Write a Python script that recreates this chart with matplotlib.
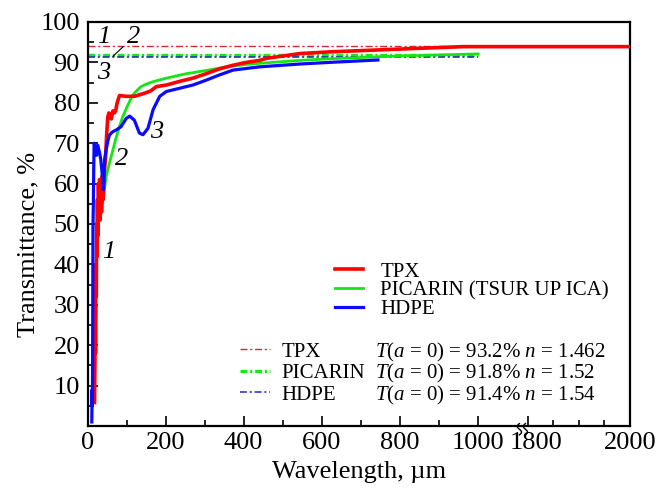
import numpy as np
import matplotlib
matplotlib.use('Agg')
import matplotlib.pyplot as plt
import matplotlib.transforms as mtransforms
from matplotlib.ticker import FixedLocator, FixedFormatter, NullFormatter

plt.rcParams['font.family'] = ['Liberation Serif', 'DejaVu Serif']
plt.rcParams['mathtext.fontset'] = 'custom'
plt.rcParams['mathtext.rm'] = 'Liberation Serif'
plt.rcParams['mathtext.it'] = 'Liberation Serif:italic'
plt.rcParams['lines.scale_dashes'] = False

# ---------------- data ----------------
tpx_wl = [18, 19, 20, 20.5, 21.5, 22.5, 23.5, 24.5, 25.5, 26.5, 28, 29.5, 31, 32.5, 34, 36, 38, 40,
          43, 46, 49, 52, 55, 58, 61, 65, 69, 72, 76, 82, 100, 120.5, 150, 163, 176, 202, 236,
          270, 304, 338, 373, 407, 441, 458, 545, 620, 800, 962, 1200, 1800, 2000]
tpx_T = [5.8, 15, 30, 18, 40, 32, 50, 42, 56, 47, 60, 52, 61, 51, 60, 53, 62, 56,
         63, 66, 72, 76.5, 77.5, 76.5, 76, 78, 77.5, 78, 80, 81.8, 81.6, 81.6, 82.5, 83, 84, 84.4, 85.3,
         86.1, 87.2, 88.4, 89.3, 90.0, 90.5, 91.0, 92.2, 92.6, 93.3, 93.9, 93.9, 93.9, 93.9]

pic_wl = [38, 44, 48, 56, 65, 73, 82, 90, 99, 108, 116, 126, 137, 150, 167, 202, 253,
          304, 356, 407, 458, 544, 620, 800, 1005]
pic_T = [55, 59, 61.8, 65, 68.3, 71.3, 74.1, 76.5, 78.5, 80.4, 81.9, 83, 84, 84.6, 85.2, 86.1, 87.2,
         88.0, 88.9, 89.5, 89.9, 90.5, 90.9, 91.6, 92.1]

hdpe_wl = [11, 12, 12.5, 13, 13.5, 14, 15, 16, 17, 20, 23, 26, 30, 34, 38, 41, 44, 48, 52, 56, 64,
           74, 86, 99, 108, 120, 133, 142, 155, 168, 185, 202, 236, 270, 304, 338, 373, 441, 544, 620, 744]
hdpe_T = [1, 9, 5, 14, 30, 49, 55, 64, 70, 69, 67, 69.5, 68, 66, 62, 58.5, 66, 68.5, 70.5, 72, 72.8,
          73.3, 74.1, 76.1, 76.7, 75.7, 72.5, 72.1, 73.7, 78.3, 81.6, 82.8, 83.6, 84.4, 85.6, 86.9, 88.1, 88.9,
          89.6, 90.0, 90.6]

names = ['TPX', 'PICARIN (TSUR UP ICA)', 'HDPE']
short_names = ['TPX', 'PICARIN', 'HDPE']
T0_values = [93.2, 91.8, 91.4]
n_values = ['1.462', '1.52', '1.54']
level_y = [94.1, 91.8, 91.35]      # drawn levels of dash-dot lines
level_xmax = [1000, 1005, 1000]

xticks_major = [0, 200, 400, 600, 800, 1000, 1800, 2000]
xticks_minor = [100, 300, 500, 700, 900, 1850, 1900, 1950]
yticks_major = [10, 20, 30, 40, 50, 60, 70, 80, 90, 100]
yticks_minor = [5, 15, 25, 35, 45, 55, 65, 75, 85, 95]

# broken x axis mapping
BX = np.array([0.0, 1000.0, 1800.0, 2000.0])
BU = np.array([0.0, 390.0, 440.0, 542.0])


def fwd(x):
    x = np.asarray(x, dtype=float)
    out = np.interp(x, BX, BU)
    out = np.where(x < 0, x * 0.39, out)
    out = np.where(x > 2000, 542 + (x - 2000) * 0.51, out)
    return out


def inv(u):
    u = np.asarray(u, dtype=float)
    out = np.interp(u, BU, BX)
    out = np.where(u < 0, u / 0.39, out)
    out = np.where(u > 542, 2000 + (u - 542) / 0.51, out)
    return out


colors = ['#ff0000', '#14e614', '#0a0aff']
dash_colors = ['#d42a2a', '#10ee10', '#2222cc']

fig = plt.figure(figsize=(6.58, 4.88), dpi=100)
ax = fig.add_axes([87.5 / 658, 62 / 488, 542.5 / 658, 404 / 488])
ax.set_xscale('function', functions=(fwd, inv))

# dash-dot reference levels
dd_lines = []
lw_dd = [1.0, 2.4, 1.1]
for i in range(3):
    ln, = ax.plot([0, level_xmax[i]], [level_y[i], level_y[i]], color=dash_colors[i], lw=lw_dd[i],
                  linestyle=(0, (5, 2, 1.5, 2)), zorder=2)
    dd_lines.append(ln)

# curves (green below red below blue)
l_pic, = ax.plot(pic_wl, pic_T, color=colors[1], lw=2.0, zorder=3, solid_joinstyle='round')
l_tpx, = ax.plot(tpx_wl, tpx_T, color=colors[0], lw=2.6, zorder=4, solid_joinstyle='round')
l_hdpe, = ax.plot(hdpe_wl, hdpe_T, color=colors[2], lw=2.3, zorder=5, solid_joinstyle='round')

ax.set_xlim(0, 2000)
ax.set_ylim(0, 100)

ax.xaxis.set_major_locator(FixedLocator(xticks_major))
ax.xaxis.set_major_formatter(FixedFormatter([str(v) for v in xticks_major]))
ax.xaxis.set_minor_locator(FixedLocator(xticks_minor))
ax.xaxis.set_minor_formatter(NullFormatter())
ax.yaxis.set_major_locator(FixedLocator(yticks_major))
ax.yaxis.set_major_formatter(FixedFormatter([str(v) for v in yticks_major]))
ax.yaxis.set_minor_locator(FixedLocator(yticks_minor))
ax.yaxis.set_minor_formatter(NullFormatter())

ax.tick_params(which='both', direction='in', top=False, right=False, width=1.2, labelsize=19)
ax.tick_params(which='major', length=7)
ax.tick_params(which='minor', length=4.5)
ax.tick_params(axis='x', which='major', pad=4.3)
ax.tick_params(axis='y', which='major', pad=5.4)
for s in ax.spines.values():
    s.set_linewidth(1.6)

ax.set_xlabel('Wavelength, µm', fontsize=19)
ax.set_ylabel('Transmittance, %', fontsize=19)
ax.xaxis.set_label_coords(0.5, -0.086)
ax.yaxis.set_label_coords(-0.0894, 0.449)

# axis break mark
btrans = mtransforms.blended_transform_factory(ax.transData, ax.transAxes)
t = np.linspace(0, 1, 40)
for c in [1664, 1760]:
    ax.plot(c + 34 * np.sin(2 * np.pi * t), -0.022 + 0.028 * t, color='k', lw=1.0,
            transform=btrans, clip_on=False, zorder=6)

# curve number annotations
num_kw = dict(fontsize=19, fontstyle='italic', ha='center', va='center', zorder=7)
ax.text(54, 43, '1', **num_kw)
ax.text(87, 66, '2', **num_kw)
ax.text(177, 72.8, '3', **num_kw)
ax.text(41, 96.3, '1', **num_kw)
ax.text(41, 87.3, '3', **num_kw)
ax.annotate('2', xy=(65, 91.5), xytext=(118, 96.3), fontsize=19, fontstyle='italic',
            ha='center', va='center',
            arrowprops=dict(arrowstyle='-', lw=0.8, color='k', shrinkA=1, shrinkB=0))

# legend 1 (solid curves)
leg1 = ax.legend([l_tpx, l_pic, l_hdpe], names, loc='upper left',
                 bbox_to_anchor=(335 / 658, 1 - 262 / 488), bbox_transform=fig.transFigure,
                 frameon=False, fontsize=15, handlelength=1.35, handletextpad=0.82,
                 labelspacing=-0.03, borderpad=0, borderaxespad=0)
ax.add_artist(leg1)

# legend 2 (dash-dot levels)
leg2 = ax.legend(dd_lines, short_names, loc='upper left',
                 bbox_to_anchor=(240 / 658, 1 - 342 / 488), bbox_transform=fig.transFigure,
                 frameon=False, fontsize=15, handlelength=1.43, handletextpad=0.57,
                 labelspacing=0.09, borderpad=0, borderaxespad=0)

fig.canvas.draw()
# shift the 1800 tick label slightly to the right as in the reference
tk = ax.xaxis.get_major_ticks()[6]
tk.label1.set_transform(tk.label1.get_transform() +
                        mtransforms.ScaledTranslation(8 / 100, 0, fig.dpi_scale_trans))

renderer = fig.canvas.get_renderer()
inv_fig = fig.transFigure.inverted()
for txt, T0, nv in zip(leg2.get_texts(), T0_values, n_values):
    bb = txt.get_window_extent(renderer)
    yc = inv_fig.transform(((bb.x0 + bb.x1) / 2, (bb.y0 + bb.y1) / 2))[1]
    s = r'$T$($a$ = 0) = ' + ('%.1f' % T0) + r'% $n$ = ' + nv
    fig.text(375 / 658, yc, s, fontsize=15, ha='left', va='center')

fig.savefig('out.png', dpi=100)
